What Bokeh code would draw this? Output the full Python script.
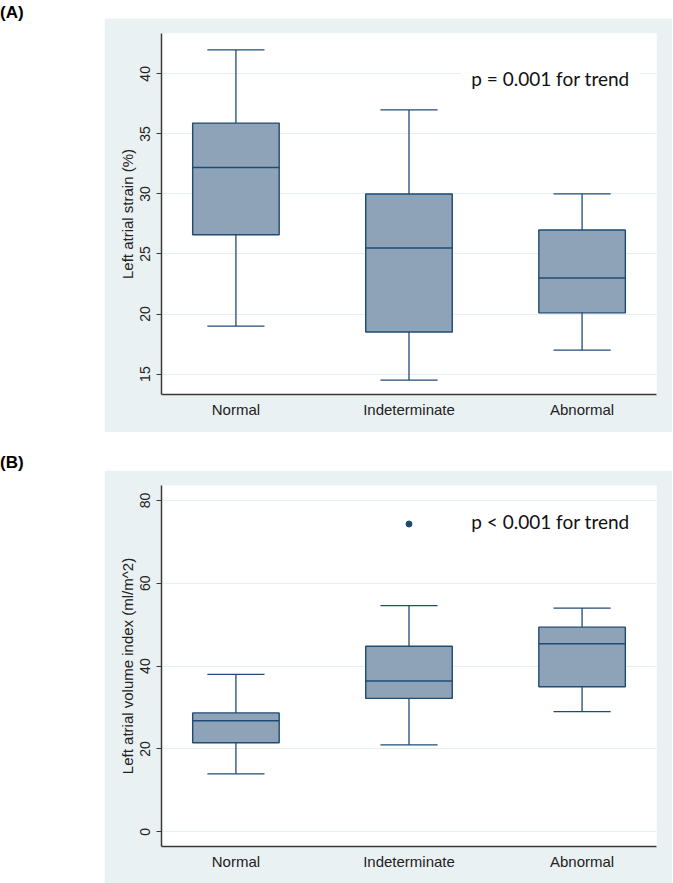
from bokeh.plotting import figure
from bokeh.models import Range1d, FixedTicker, Label, Div, Spacer
from bokeh.layouts import column, row
from bokeh.embed import file_html
from bokeh.resources import INLINE

# ---------------- data ----------------
categories = ["Normal", "Indeterminate", "Abnormal"]

# Panel A: Left atrial strain (%)
strain_lower = [19.0, 14.5, 17.0]
strain_q1 = [26.6, 18.5, 20.1]
strain_median = [32.2, 25.5, 23.0]
strain_q3 = [35.9, 30.0, 27.0]
strain_upper = [42.0, 37.0, 30.0]
strain_ticks = [15, 20, 25, 30, 35, 40]

# Panel B: Left atrial volume index (ml/m^2)
lavi_lower = [14.0, 21.0, 29.0]
lavi_q1 = [21.5, 32.2, 35.0]
lavi_median = [26.8, 36.4, 45.4]
lavi_q3 = [28.7, 44.8, 49.4]
lavi_upper = [38.0, 54.6, 54.0]
lavi_outlier_cat = ["Indeterminate"]
lavi_outlier_val = [74.3]
lavi_ticks = [0, 20, 40, 60, 80]

BG = "#eaf1f3"
FILL = "#8ea3b8"
LINE = "#1f4b73"
GRID = "#e6eef1"
AXIS = "#3a3a3a"
TXT = "#222222"


def make_panel(title, lower, q1, med, q3, upper, ticks, yr, note, note_xy,
               height, bottom, note_bg, out_cat=None, out_val=None):
    xs = [i + 1 for i in range(len(categories))]
    p = figure(width=568, height=height, output_backend="svg",
               toolbar_location=None,
               x_range=Range1d(0.57, 3.43), y_range=Range1d(*yr),
               min_border_left=57, min_border_right=16,
               min_border_top=15, min_border_bottom=bottom)
    p.border_fill_color = BG
    p.background_fill_color = "white"
    p.outline_line_color = None

    # whiskers
    p.segment(x0=xs, y0=q3, x1=xs, y1=upper, line_color=LINE, line_width=1.3)
    p.segment(x0=xs, y0=lower, x1=xs, y1=q1, line_color=LINE, line_width=1.3)
    cw = 0.165
    p.segment(x0=[x - cw for x in xs], y0=upper, x1=[x + cw for x in xs], y1=upper,
              line_color=LINE, line_width=1.3)
    p.segment(x0=[x - cw for x in xs], y0=lower, x1=[x + cw for x in xs], y1=lower,
              line_color=LINE, line_width=1.3)
    # boxes
    p.vbar(x=xs, width=0.5, bottom=q1, top=q3, fill_color=FILL,
           line_color=LINE, line_width=1.4)
    # medians
    p.segment(x0=[x - 0.25 for x in xs], y0=med, x1=[x + 0.25 for x in xs], y1=med,
              line_color=LINE, line_width=1.4)
    if out_cat:
        ox = [categories.index(c) + 1 for c in out_cat]
        p.scatter(x=ox, y=out_val, marker="circle", size=6,
                  fill_color=LINE, line_color=LINE)

    # axes
    p.xgrid.grid_line_color = None
    p.ygrid.grid_line_color = GRID
    p.ygrid.grid_line_width = 1

    p.yaxis.ticker = FixedTicker(ticks=ticks)
    p.yaxis.axis_label = title
    p.yaxis.axis_label_text_font = "Liberation Sans"
    p.yaxis.axis_label_text_font_style = "normal"
    p.yaxis.axis_label_text_font_size = "15px"
    p.yaxis.axis_label_text_color = TXT
    p.yaxis.axis_label_standoff = 2
    p.yaxis.major_label_orientation = "vertical"
    p.yaxis.major_label_text_font = "Liberation Sans"
    p.yaxis.major_label_text_font_size = "14px"
    p.yaxis.major_label_text_color = TXT
    p.yaxis.major_label_standoff = 6
    p.yaxis.major_tick_out = 5
    p.yaxis.major_tick_in = 0
    p.yaxis.minor_tick_line_color = None
    p.yaxis.axis_line_color = AXIS
    p.yaxis.axis_line_width = 1.5
    p.yaxis.major_tick_line_color = AXIS

    p.xaxis.ticker = FixedTicker(ticks=xs)
    p.xaxis.major_label_overrides = {x: c for x, c in zip(xs, categories)}
    p.xaxis.major_label_text_font = "Liberation Sans"
    p.xaxis.major_label_text_font_size = "15px"
    p.xaxis.major_label_text_color = TXT
    p.xaxis.major_label_standoff = 6
    p.xaxis.major_tick_out = 0
    p.xaxis.major_tick_in = 0
    p.xaxis.minor_tick_line_color = None
    p.xaxis.axis_line_color = AXIS
    p.xaxis.axis_line_width = 1.5

    lab = Label(x=note_xy[0], y=note_xy[1], text=note, text_font="Lato",
                text_font_size="19px", text_color="#111111",
                text_baseline="middle", text_align="left",
                background_fill_color=note_bg, padding=10)
    p.add_layout(lab)
    return p


pA = make_panel("Left atrial strain (%)", strain_lower, strain_q1, strain_median,
                strain_q3, strain_upper, strain_ticks, (13.3, 43.36),
                "p = 0.001 for trend", (2.302, 39.6), 414, 38, "white")
pB = make_panel("Left atrial volume index (ml/m^2)", lavi_lower, lavi_q1, lavi_median,
                lavi_q3, lavi_upper, lavi_ticks, (-3.55, 83.6),
                "p < 0.001 for trend", (2.302, 75.0), 413, 37, None,
                lavi_outlier_cat, lavi_outlier_val)

labA = Div(text='<div style="padding-top:3px;'
                'font:bold 17px \'Liberation Sans\',Arial,sans-serif;color:#000;">(A)</div>',
           width=104, height=30, margin=0)
labB = Div(text='<div style="padding-top:21px;'
                'font:bold 17px \'Liberation Sans\',Arial,sans-serif;color:#000;">(B)</div>',
           width=104, height=50, margin=0)

layout = column(
    row(labA, column(Spacer(width=1, height=18), pA, spacing=0), spacing=0),
    row(labB, column(Spacer(width=1, height=38), pB, spacing=0), spacing=0),
    spacing=0,
)

open("out.html", "w").write(file_html(layout, INLINE))
